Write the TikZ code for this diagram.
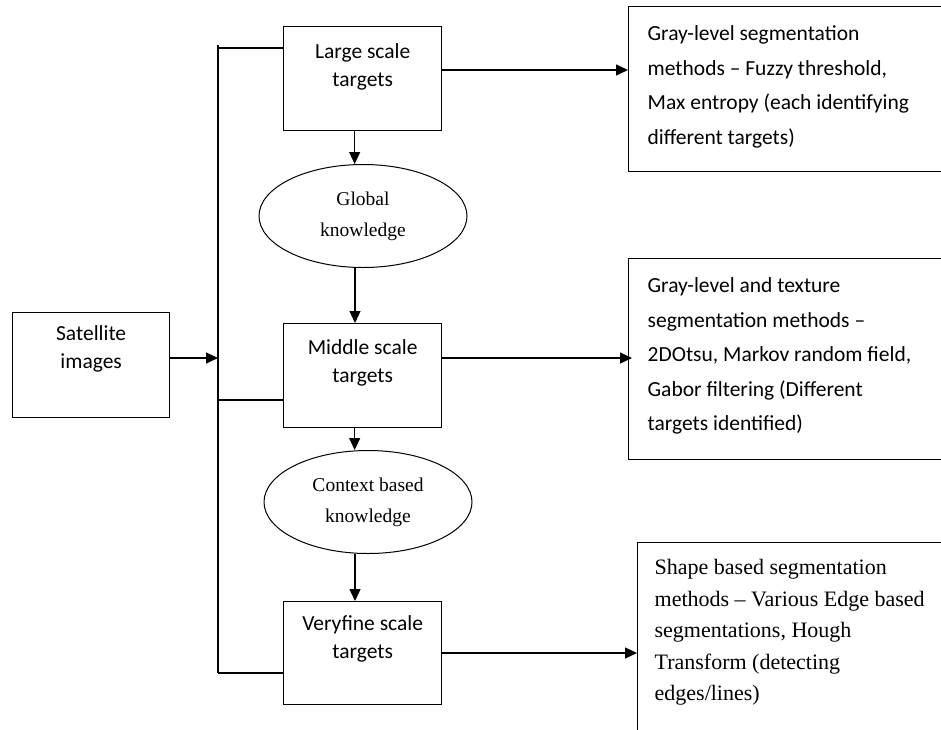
\documentclass[tikz,border=0pt]{standalone}
\usepackage{fontspec}
\setmainfont{Liberation Serif}
\newfontfamily\carl{Carlito}
\usetikzlibrary{shapes.geometric,arrows.meta}
\newcommand\cbox[4]{\parbox[t][#2][t]{#1}{\centering\rule{0pt}{#3}#4}}
\newcommand\lbox[5]{\parbox[t][#2][t]{#1}{\raggedright\leftskip=#4\relax\rule{0pt}{#3}#5}}
\begin{document}
\begin{tikzpicture}[x=1pt,y=-1pt,line width=1.3pt,
  tbox/.style={draw,inner sep=0pt,anchor=north west,font=\carl\fontsize{21.5}{28}\selectfont},
  mbox/.style={draw,inner sep=0pt,anchor=north west},
  know/.style={draw,ellipse,line width=1pt,inner sep=0pt,minimum width=208pt,minimum height=103pt,align=center,font=\fontsize{19.5}{31}\selectfont},
  arr/.style={-{Triangle[length=12pt,width=11pt]}}]
\clip (0,0) rectangle (941,729);
\fill[white] (0,0) rectangle (941,729);
% main column
\node[tbox] (sat) at (12,312) {\cbox{157pt}{105pt}{28pt}{Satellite\\images}};
\node[tbox] (large) at (283,26) {\cbox{158pt}{104pt}{32pt}{Large scale\\targets}};
\node[know] (global) at (363,216) {Global\\knowledge};
\node[tbox] (middle) at (283,323) {\cbox{158pt}{104pt}{31pt}{Middle scale\\targets}};
\node[know] (context) at (368,502) {Context based\\knowledge};
\node[tbox] (fine) at (283,601) {\cbox{158pt}{103pt}{29pt}{Veryfine scale\\targets}};
% method boxes
\node[tbox,font=\carl\fontsize{21.5}{34.5}\selectfont] (m1) at (628,6)
  {\lbox{330pt}{165pt}{34pt}{19pt}{Gray-level segmentation\\methods – Fuzzy threshold,\\Max entropy (each identifying\\different targets)}};
\node[tbox,font=\carl\fontsize{21.5}{34.5}\selectfont] (m2) at (628,258)
  {\lbox{330pt}{201pt}{34pt}{19pt}{Gray-level and texture\\segmentation methods –\\2DOtsu, Markov random field,\\Gabor filtering (Different\\targets identified)}};
\node[mbox,font=\fontsize{22}{31.5}\selectfont] (m3) at (637,542)
  {\lbox{320pt}{220pt}{32pt}{17pt}{Shape based segmentation\\methods – Various Edge based\\segmentations, Hough\\Transform (detecting\\edges/lines)}};
% bus
\coordinate (busTop) at (218,45);
\coordinate (busA) at (218,48);
\coordinate (busIn) at (218,358);
\coordinate (busB) at (218,400);
\coordinate (busBot) at (218,673);
\draw (busTop) -- (busBot);
\draw (busA) -- (busA -| large.west);
\draw (busB) -- (busB -| middle.west);
\draw (busBot) -- (busBot -| fine.west);
\draw[arr] (sat.east |- busIn) -- (busIn);
% vertical flow
\draw[arr] ([xshift=-8pt]large.south) -- ([xshift=-8pt]large.south |- global.north);
\draw[arr] ([xshift=-8pt]global.south) -- ([xshift=-8pt]global.south |- middle.north);
\draw[arr] ([xshift=-8pt]middle.south) -- ([xshift=-8pt]middle.south |- context.north);
\draw[arr] ([xshift=-13pt]context.south) -- ([xshift=-13pt]context.south |- fine.north);
% method arrows
\coordinate (r1) at (441,70);
\coordinate (r2) at (441,358);
\coordinate (r3) at (441,653);
\draw[arr] (r1) -- (r1 -| m1.west);
\draw[arr] (r2) -- ([xshift=4pt]r2 -| m2.west);
\draw[arr] (r3) -- (r3 -| m3.west);
\end{tikzpicture}
\end{document}
